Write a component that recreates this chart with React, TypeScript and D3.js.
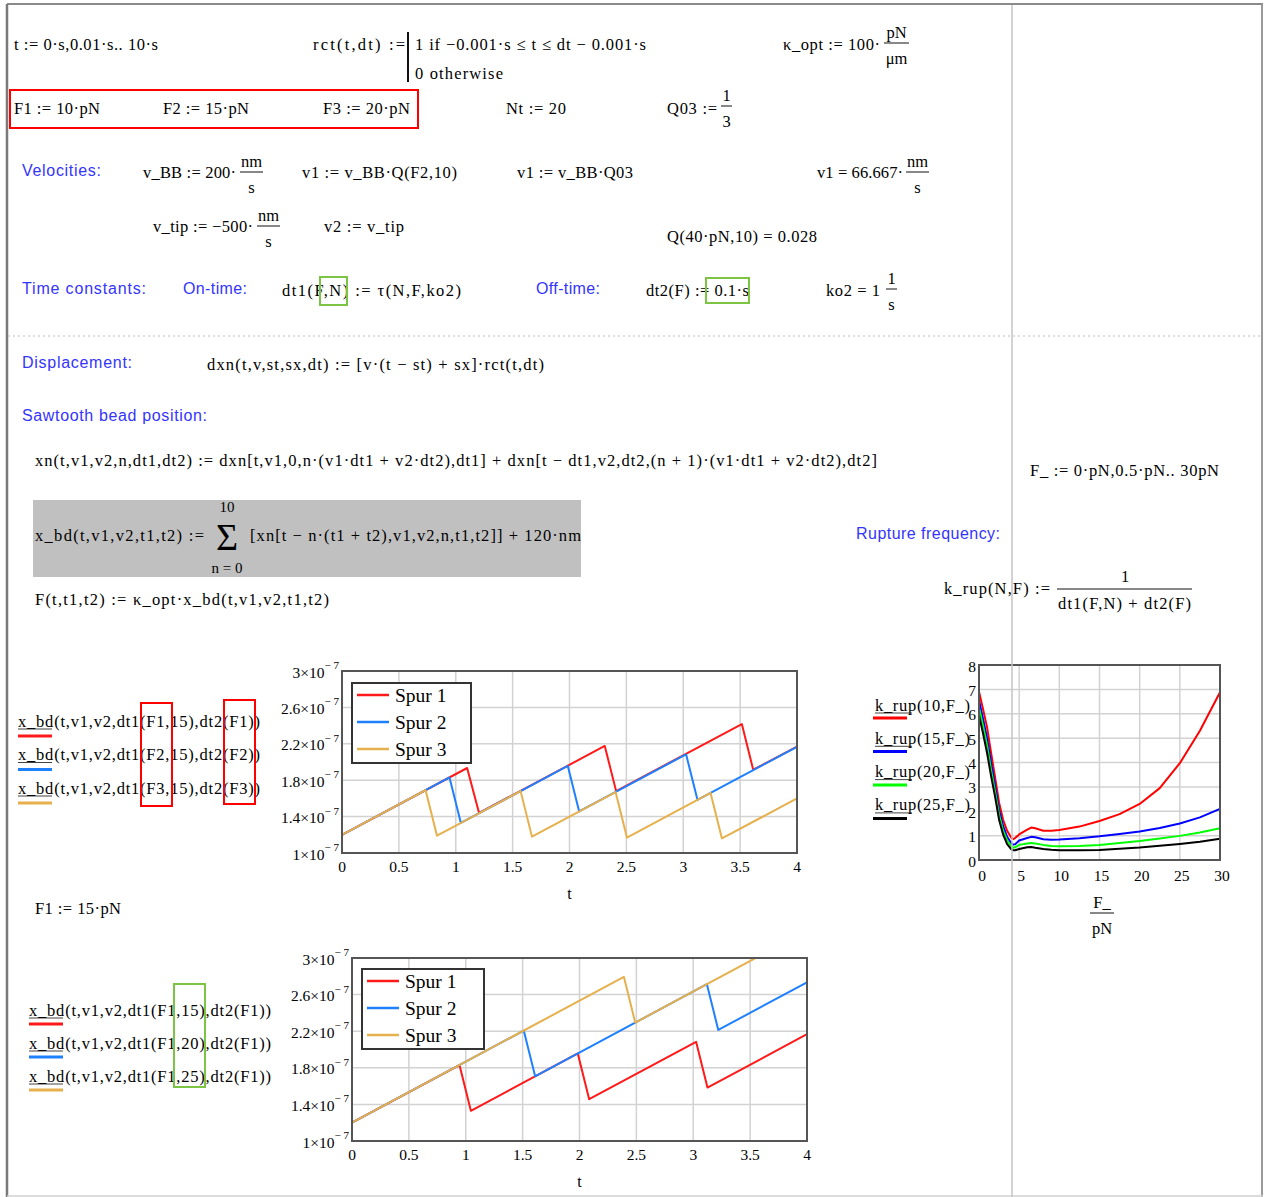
import React from "react";
import * as d3 from "d3";

// ---------- data ----------
const tTicks = [0, 0.5, 1, 1.5, 2, 2.5, 3, 3.5, 4];
const tTickLabels = ["0", "0.5", "1", "1.5", "2", "2.5", "3", "3.5", "4"];
const xbdTicks = [1e-7, 1.4e-7, 1.8e-7, 2.2e-7, 2.6e-7, 3e-7];
const xbdTickMantissa = ["1", "1.4", "1.8", "2.2", "2.6", "3"];
const spurLabels = ["Spur 1", "Spur 2", "Spur 3"];
const spurColors = ["#ff1a1a", "#1f80ff", "#e6b04d"];

// Plot A: x_bd with dt1(F1,15), dt1(F2,15), dt1(F3,15)
const spur1A_t = [0, 1.1, 1.205, 2.31, 2.41, 3.515, 3.615, 4];
const spur1A_x = [1.2e-7, 1.934e-7, 1.44e-7, 2.176e-7, 1.68e-7, 2.417e-7, 1.915e-7, 2.17e-7];
const spur2A_t = [0, 0.945, 1.045, 1.985, 2.085, 3.025, 3.125, 4];
const spur2A_x = [1.2e-7, 1.83e-7, 1.33e-7, 1.957e-7, 1.457e-7, 2.084e-7, 1.584e-7, 2.167e-7];
const spur3A_t = [0, 0.735, 0.835, 1.57, 1.67, 2.405, 2.505, 3.24, 3.34, 4];
const spur3A_x = [1.2e-7, 1.69e-7, 1.19e-7, 1.68e-7, 1.18e-7, 1.67e-7, 1.17e-7, 1.66e-7, 1.16e-7, 1.6e-7];

// Plot B: x_bd with dt1(F1,15), dt1(F1,20), dt1(F1,25)
const spur1B_t = [0, 0.945, 1.045, 1.985, 2.085, 3.025, 3.125, 4];
const spur1B_x = [1.2e-7, 1.83e-7, 1.33e-7, 1.957e-7, 1.457e-7, 2.084e-7, 1.584e-7, 2.167e-7];
const spur2B_t = [0, 1.51, 1.61, 3.12, 3.22, 4];
const spur2B_x = [1.2e-7, 2.207e-7, 1.707e-7, 2.714e-7, 2.214e-7, 2.734e-7];
const spur3B_t = [0, 2.39, 2.49, 4];
const spur3B_x = [1.2e-7, 2.794e-7, 2.294e-7, 3.301e-7];

// Rupture frequency
const forceValues = [0, 0.5, 1, 1.5, 2, 2.5, 3, 3.5, 4, 4.25, 4.5, 5, 6, 6.5, 7, 8, 9, 10, 12.5, 15, 17.5, 20, 22.5, 25, 27.5, 30];
const krup10 = [6.9, 6.2, 5.45, 4.4, 3.4, 2.35, 1.65, 1.2, 0.92, 0.86, 0.9, 1.05, 1.25, 1.33, 1.3, 1.2, 1.2, 1.23, 1.37, 1.6, 1.88, 2.3, 2.95, 3.97, 5.3, 6.88];
const krup15 = [6.55, 5.8, 5.0, 4.0, 3.05, 2.05, 1.4, 0.95, 0.7, 0.63, 0.65, 0.8, 0.9, 0.95, 0.93, 0.85, 0.83, 0.84, 0.89, 0.97, 1.07, 1.17, 1.31, 1.5, 1.75, 2.1];
const krup20 = [6.25, 5.5, 4.7, 3.7, 2.8, 1.85, 1.2, 0.8, 0.57, 0.5, 0.52, 0.62, 0.68, 0.7, 0.68, 0.62, 0.57, 0.56, 0.57, 0.62, 0.7, 0.78, 0.88, 0.99, 1.13, 1.3];
const krup25 = [5.95, 5.2, 4.4, 3.45, 2.6, 1.65, 1.05, 0.65, 0.45, 0.4, 0.4, 0.45, 0.52, 0.53, 0.5, 0.45, 0.42, 0.4, 0.4, 0.41, 0.46, 0.51, 0.58, 0.66, 0.75, 0.87];
const krupColors = ["#ff0000", "#0000ff", "#00ff00", "#000000"];
const krupLegend = ["k_rup(10,F_)", "k_rup(15,F_)", "k_rup(20,F_)", "k_rup(25,F_)"];
const forceTicks = [0, 5, 10, 15, 20, 25, 30];
const krupTicks = [0, 1, 2, 3, 4, 5, 6, 7, 8];

const legendA = [
  "x_bd(t,v1,v2,dt1(F1,15),dt2(F1))",
  "x_bd(t,v1,v2,dt1(F2,15),dt2(F2))",
  "x_bd(t,v1,v2,dt1(F3,15),dt2(F3))",
];
const legendB = [
  "x_bd(t,v1,v2,dt1(F1,15),dt2(F1))",
  "x_bd(t,v1,v2,dt1(F1,20),dt2(F1))",
  "x_bd(t,v1,v2,dt1(F1,25),dt2(F1))",
];

// ---------- helpers ----------
const SERIF = "'Liberation Serif', 'Times New Roman', serif";
const SANS = "'Liberation Sans', Arial, sans-serif";
const BLUE = "#3434ff";
const MS = 16.5;

function T({ x, y, w, s = MS, c = "#000", f = SERIF, a = "start", children }: any) {
  return (
    <text
      x={x}
      y={y}
      fontSize={s}
      fill={c}
      fontFamily={f}
      textAnchor={a}
      dominantBaseline="central"
      textLength={w}
      lengthAdjust={w ? "spacing" : undefined}
    >
      {children}
    </text>
  );
}

function Frac({ x0, x1, y, num, den }: any) {
  const cx = (x0 + x1) / 2;
  return (
    <g>
      <T x={cx} y={y - 11} a="middle">{num}</T>
      <line x1={x0} x2={x1} y1={y} y2={y} stroke="#111" strokeWidth={1} />
      <T x={cx} y={y + 15} a="middle">{den}</T>
    </g>
  );
}

function SawPlot({ id, x0, y0, x1, y1, series, legend }: any) {
  const xs = d3.scaleLinear().domain([0, 4]).range([x0, x1]);
  const ys = d3.scaleLinear().domain([1e-7, 3e-7]).range([y1, y0]);
  const line = d3.line<[number, number]>().x((d) => xs(d[0])).y((d) => ys(d[1]));
  return (
    <g>
      <defs>
        <clipPath id={id}>
          <rect x={x0} y={y0} width={x1 - x0} height={y1 - y0} />
        </clipPath>
      </defs>
      {tTicks.map((t, i) => (
        <line key={"gx" + i} x1={xs(t)} x2={xs(t)} y1={y0} y2={y1} stroke="#d2d2d2" strokeWidth={1.5} />
      ))}
      {xbdTicks.map((v, i) => (
        <line key={"gy" + i} x1={x0} x2={x1} y1={ys(v)} y2={ys(v)} stroke="#d2d2d2" strokeWidth={1.5} />
      ))}
      <g clipPath={`url(#${id})`}>
        {series.map((s: any, i: number) => (
          <path
            key={i}
            d={line(s.t.map((t: number, j: number) => [t, s.x[j]]) as any) || ""}
            fill="none"
            stroke={spurColors[i]}
            strokeWidth={2}
            strokeLinejoin="round"
          />
        ))}
      </g>
      <rect x={x0} y={y0} width={x1 - x0} height={y1 - y0} fill="none" stroke="#555" strokeWidth={2} />
      {tTicks.map((t, i) => (
        <T key={"tx" + i} x={xs(t)} y={y1 + 13} a="middle" s={15.5}>{tTickLabels[i]}</T>
      ))}
      {xbdTicks.map((v, i) => (
        <text key={"ty" + i} x={x0 - 3} y={ys(v) + 1} fontSize={15.5} fontFamily={SERIF} fill="#000" textAnchor="end" dominantBaseline="central">
          {xbdTickMantissa[i]}×10<tspan dy={-7} fontSize={11}>− 7</tspan>
        </text>
      ))}
      <T x={(x0 + x1) / 2} y={y1 + 40} a="middle" s={16}>t</T>
      <rect x={legend.x} y={legend.y} width={legend.w} height={legend.h} fill="#fff" stroke="#333" strokeWidth={2} />
      {spurLabels.map((lab, i) => (
        <g key={"lg" + i}>
          <line x1={legend.x + 5} x2={legend.x + 37} y1={legend.y + 12 + i * 27} y2={legend.y + 12 + i * 27} stroke={spurColors[i]} strokeWidth={2.5} />
          <T x={legend.x + 43} y={legend.y + 12 + i * 27} s={19.5}>{lab}</T>
        </g>
      ))}
    </g>
  );
}

function KrupPlot() {
  const x0 = 979, x1 = 1220, y0 = 665, y1 = 860;
  const xs = d3.scaleLinear().domain([0, 30]).range([x0, x1]);
  const ys = d3.scaleLinear().domain([0, 8]).range([y1, y0]);
  const line = d3.line<number>().x((_, i) => xs(forceValues[i])).y((d) => ys(d));
  const curves = [krup10, krup15, krup20, krup25];
  return (
    <g>
      {forceTicks.map((f, i) => (
        <line key={"gx" + i} x1={xs(f)} x2={xs(f)} y1={y0} y2={y1} stroke="#d2d2d2" strokeWidth={1.5} />
      ))}
      {krupTicks.map((k, i) => (
        <line key={"gy" + i} x1={x0} x2={x1} y1={ys(k)} y2={ys(k)} stroke="#d2d2d2" strokeWidth={1.5} />
      ))}
      {curves.map((c, i) => (
        <path key={i} d={line(c) || ""} fill="none" stroke={krupColors[i]} strokeWidth={2} strokeLinejoin="round" />
      ))}
      <rect x={x0} y={y0} width={x1 - x0} height={y1 - y0} fill="none" stroke="#555" strokeWidth={2} />
      {forceTicks.map((f, i) => (
        <T key={"tx" + i} x={xs(f) + (i === 0 ? 3 : 2)} y={y1 + 15} a="middle" s={15.5}>{String(f)}</T>
      ))}
      {krupTicks.map((k, i) => (
        <T key={"ty" + i} x={x0 - 3} y={ys(k) + 1} a="end" s={15.5}>{String(k)}</T>
      ))}
      {krupLegend.map((lab, i) => (
        <g key={"lg" + i}>
          <T x={875} y={705 + i * 33.3} w={95}>{lab}</T>
          <line x1={875} x2={912} y1={713 + i * 33.3} y2={713 + i * 33.3} stroke="#111" strokeWidth={0.8} />
          <line x1={873} x2={907} y1={718 + i * 33.5} y2={718 + i * 33.5} stroke={krupColors[i]} strokeWidth={3} />
        </g>
      ))}
      <Frac x0={1090} x1={1114} y={913} num="F_" den="pN" />
    </g>
  );
}

export default function App() {
  const seriesA = [
    { t: spur1A_t, x: spur1A_x },
    { t: spur2A_t, x: spur2A_x },
    { t: spur3A_t, x: spur3A_x },
  ];
  const seriesB = [
    { t: spur1B_t, x: spur1B_x },
    { t: spur2B_t, x: spur2B_x },
    { t: spur3B_t, x: spur3B_x },
  ];
  return (
    <svg width={1265} height={1197} style={{ position: "absolute", left: 0, top: 0, background: "#fff" }}>
      <rect x={0} y={0} width={1265} height={1197} fill="#fff" />
      {/* page frame */}
      <line x1={7} x2={1263} y1={4} y2={4} stroke="#8a8a8a" strokeWidth={2} />
      <line x1={7} x2={7} y1={4} y2={1197} stroke="#7a7a7a" strokeWidth={2.5} />
      <line x1={1262} x2={1262} y1={4} y2={1197} stroke="#9a9a9a" strokeWidth={2} />
      <line x1={7} x2={1263} y1={1196} y2={1196} stroke="#d0d0d0" strokeWidth={1.5} />
      <line x1={8} x2={1262} y1={336} y2={336} stroke="#bdbdbd" strokeWidth={1} strokeDasharray="2 3" />

      {/* row 1 */}
      <T x={14} y={44} w={144}>t := 0·s,0.01·s.. 10·s</T>
      <T x={313} y={44} w={92}>rct(t,dt) :=</T>
      <line x1={408} x2={408} y1={32} y2={82} stroke="#111" strokeWidth={2} />
      <T x={415} y={44} w={231}>1  if  −0.001·s ≤ t ≤ dt − 0.001·s</T>
      <T x={415} y={73} w={88}>0  otherwise</T>
      <T x={783} y={44} w={97}>κ_opt := 100·</T>
      <Frac x0={884} x1={909} y={43} num="pN" den="μm" />

      {/* row 2 */}
      <rect x={10} y={90} width={408} height={38} fill="none" stroke="#ff0000" strokeWidth={2} />
      <T x={14} y={108} w={86}>F1 := 10·pN</T>
      <T x={163} y={108} w={86}>F2 := 15·pN</T>
      <T x={323} y={108} w={87}>F3 := 20·pN</T>
      <T x={506} y={108} w={60}>Nt := 20</T>
      <T x={667} y={108} w={50}>Q03 :=</T>
      <Frac x0={721} x1={732} y={106} num="1" den="3" />

      {/* velocities */}
      <T x={22} y={170} w={79} f={SANS} c={BLUE} s={16}>Velocities:</T>
      <T x={143} y={172} w={93}>v_BB := 200·</T>
      <Frac x0={240} x1={263} y={172} num="nm" den="s" />
      <T x={302} y={172} w={155}>v1 := v_BB·Q(F2,10)</T>
      <T x={517} y={172} w={116}>v1 := v_BB·Q03</T>
      <T x={817} y={172} w={86}>v1 = 66.667·</T>
      <Frac x0={906} x1={929} y={172} num="nm" den="s" />
      <T x={153} y={226} w={100}>v_tip := −500·</T>
      <Frac x0={257} x1={280} y={226} num="nm" den="s" />
      <T x={324} y={226} w={80}>v2 := v_tip</T>
      <T x={667} y={236} w={150}>Q(40·pN,10) = 0.028</T>

      {/* time constants */}
      <T x={22} y={288} w={124} f={SANS} c={BLUE} s={16}>Time constants:</T>
      <T x={183} y={288} w={64} f={SANS} c={BLUE} s={16}>On-time:</T>
      <T x={282} y={290} w={179}>dt1(F,N) := τ(N,F,ko2)</T>
      <rect x={320} y={277} width={27} height={28} fill="none" stroke="#7cc444" strokeWidth={2} />
      <T x={536} y={288} w={64} f={SANS} c={BLUE} s={16}>Off-time:</T>
      <T x={646} y={290} w={103}>dt2(F) := 0.1·s</T>
      <rect x={706} y={278} width={43} height={25} fill="none" stroke="#7cc444" strokeWidth={2} />
      <T x={826} y={290} w={54}>ko2 = 1</T>
      <Frac x0={886} x1={897} y={289} num="1" den="s" />

      {/* displacement */}
      <T x={22} y={362} w={110} f={SANS} c={BLUE} s={16}>Displacement:</T>
      <T x={207} y={364} w={337}>dxn(t,v,st,sx,dt) := [v·(t − st) + sx]·rct(t,dt)</T>
      <T x={22} y={415} w={185} f={SANS} c={BLUE} s={16}>Sawtooth bead position:</T>
      <T x={35} y={460} w={842}>xn(t,v1,v2,n,dt1,dt2) := dxn[t,v1,0,n·(v1·dt1 + v2·dt2),dt1] + dxn[t − dt1,v2,dt2,(n + 1)·(v1·dt1 + v2·dt2),dt2]</T>
      <rect x={33} y={500} width={548} height={77} fill="#c0c0c0" />
      <T x={35} y={535} w={169}>x_bd(t,v1,v2,t1,t2) :=</T>
      <T x={227} y={537} a="middle" s={38}>Σ</T>
      <T x={227} y={507} a="middle" s={15}>10</T>
      <T x={227} y={568} a="middle" s={15}>n = 0</T>
      <T x={250} y={535} w={331}>[xn[t − n·(t1 + t2),v1,v2,n,t1,t2]] + 120·nm</T>
      <T x={35} y={599} w={294}>F(t,t1,t2) := κ_opt·x_bd(t,v1,v2,t1,t2)</T>

      {/* rupture */}
      <T x={1030} y={470} w={189}>F_ := 0·pN,0.5·pN.. 30pN</T>
      <T x={856} y={533} w={144} f={SANS} c={BLUE} s={16}>Rupture frequency:</T>
      <T x={944} y={588} w={106}>k_rup(N,F) :=</T>
      <T x={1125} y={576} a="middle">1</T>
      <line x1={1057} x2={1192} y1={589} y2={589} stroke="#111" strokeWidth={1} />
      <T x={1058} y={603} w={133}>dt1(F,N) + dt2(F)</T>

      {/* plot A */}
      {legendA.map((lab, i) => (
        <g key={"la" + i}>
          <T x={18} y={721 + i * 33.5} w={242}>{lab}</T>
          <line x1={18} x2={52} y1={729 + i * 33.5} y2={729 + i * 33.5} stroke="#111" strokeWidth={0.8} />
          <line x1={18} x2={52} y1={736 + i * 33.5} y2={736 + i * 33.5} stroke={spurColors[i]} strokeWidth={3} />
        </g>
      ))}
      <rect x={141} y={703} width={31} height={103} fill="none" stroke="#ff0000" strokeWidth={2} />
      <rect x={224} y={700} width={31} height={104} fill="none" stroke="#ff0000" strokeWidth={2} />
      <SawPlot id="clipA" x0={342} y0={671} x1={797} y1={853} series={seriesA} legend={{ x: 352, y: 683, w: 119, h: 80 }} />

      {/* plot B */}
      <T x={35} y={908} w={86}>F1 := 15·pN</T>
      {legendB.map((lab, i) => (
        <g key={"lb" + i}>
          <T x={29} y={1010 + i * 33} w={242}>{lab}</T>
          <line x1={29} x2={63} y1={1018 + i * 33} y2={1018 + i * 33} stroke="#111" strokeWidth={0.8} />
          <line x1={29} x2={63} y1={1024 + i * 33} y2={1024 + i * 33} stroke={spurColors[i]} strokeWidth={3} />
        </g>
      ))}
      <rect x={174} y={984} width={31} height={103} fill="none" stroke="#7cc444" strokeWidth={2} />
      <SawPlot id="clipB" x0={352} y0={958} x1={807} y1={1141} series={seriesB} legend={{ x: 362, y: 969, w: 122, h: 80 }} />

      <KrupPlot />
      <line x1={1012} x2={1012} y1={5} y2={1197} stroke="#c4c4c4" strokeWidth={1.5} />
    </svg>
  );
}
